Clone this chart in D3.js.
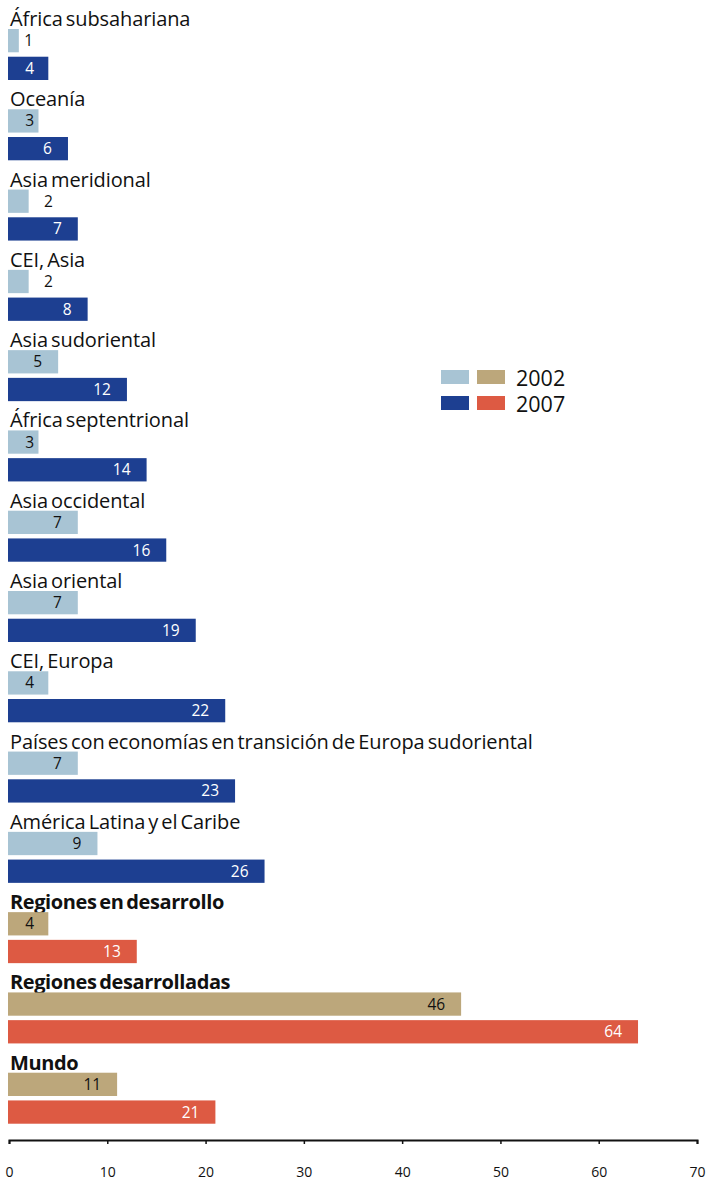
<!DOCTYPE html>
<html>
<head>
<meta charset="utf-8">
<script src="https://cdn.jsdelivr.net/npm/d3@7"></script>
<style>
  html, body { margin: 0; padding: 0; background: #fff; }
  svg { display: block; }
  .cat { font-family: "Open Sans", sans-serif; font-size: 20px; fill: #111; word-spacing: -2px; letter-spacing: -0.1px; }
  .cat.bold { font-weight: 700; letter-spacing: -0.4px; }
  .val { font-family: "Open Sans", sans-serif; font-size: 15.5px; }
  .tick text { font-family: "Open Sans", sans-serif; font-size: 14px; fill: #111; }
  .leg { font-family: "Open Sans", sans-serif; font-size: 21.5px; fill: #111; }
</style>
</head>
<body>
<script>
const categories = [
  "África subsahariana",
  "Oceanía",
  "Asia meridional",
  "CEI, Asia",
  "Asia sudoriental",
  "África septentrional",
  "Asia occidental",
  "Asia oriental",
  "CEI, Europa",
  "Países con economías en transición de Europa sudoriental",
  "América Latina y el Caribe",
  "Regiones en desarrollo",
  "Regiones desarrolladas",
  "Mundo"
];
const values2002 = [1, 3, 2, 2, 5, 3, 7, 7, 4, 7, 9, 4, 46, 11];
const values2007 = [4, 6, 7, 8, 12, 14, 16, 19, 22, 23, 26, 13, 64, 21];
const aggregates = ["Regiones en desarrollo", "Regiones desarrolladas", "Mundo"];
const seriesNames = ["2002", "2007"];
const xTicks = [0, 10, 20, 30, 40, 50, 60, 70];

const colors = {
  region: { "2002": "#a8c4d4", "2007": "#1d3f91" },
  aggregate: { "2002": "#bca77b", "2007": "#dd5a43" }
};

const W = 712, H = 1182;
const svg = d3.select("body").append("svg").attr("width", W).attr("height", H);

const x = d3.scaleLinear().domain([0, 70]).range([9, 697]);
const y = d3.scaleBand().domain(categories).range([0, 1124]).paddingInner(0).paddingOuter(0);
const sub = d3.scaleBand().domain(seriesNames).range([29, 80]).paddingInner(0.16);

const rows = categories.map((c, i) => ({
  cat: c, agg: aggregates.includes(c),
  vals: [{ s: "2002", v: values2002[i] }, { s: "2007", v: values2007[i] }]
}));

const g = svg.selectAll("g.row").data(rows).join("g")
  .attr("class", "row")
  .attr("transform", d => `translate(0,${y(d.cat)})`);

g.append("text")
  .attr("class", d => "cat" + (d.agg ? " bold" : ""))
  .attr("x", 10)
  .attr("y", 26)
  .text(d => d.cat);

const bars = g.selectAll("g.bar").data(d => d.vals.map(v => ({ ...v, agg: d.agg }))).join("g").attr("class", "bar");

bars.append("rect")
  .attr("x", x(0) - 1)
  .attr("y", d => sub(d.s))
  .attr("width", d => x(d.v) - x(0) + 1)
  .attr("height", sub.bandwidth())
  .attr("fill", d => (d.agg ? colors.aggregate : colors.region)[d.s]);

bars.append("text")
  .attr("class", "val")
  .attr("y", d => sub(d.s) + sub.bandwidth() / 2 + 5.5)
  .attr("x", d => d.v <= 2 ? x(2 * d.v) : Math.max(x(d.v) - 16, 34))
  .attr("text-anchor", d => d.v <= 2 ? "middle" : "end")
  .attr("fill", d => (d.s === "2007" && d.v > 2) ? "#fff" : "#111")
  .text(d => d.v);

// Axis
const axisG = svg.append("g").attr("transform", "translate(0,1140)");
axisG.call(d3.axisBottom(x).tickValues(xTicks).tickSize(4).tickSizeOuter(4).tickPadding(23));
axisG.select(".domain").attr("stroke", "#111").attr("stroke-width", 2);
axisG.selectAll(".tick line").attr("stroke", "#111").attr("stroke-width", 1.5);

// Legend
const leg = svg.append("g");
seriesNames.forEach((s, i) => {
  const yy = 370 + i * 26;
  leg.append("rect").attr("x", 441).attr("y", yy).attr("width", 28).attr("height", 14).attr("fill", colors.region[s]);
  leg.append("rect").attr("x", 477).attr("y", yy).attr("width", 28).attr("height", 14).attr("fill", colors.aggregate[s]);
  leg.append("text").attr("class", "leg").attr("x", 516).attr("y", yy + 15.5).text(s);
});
</script>
</body>
</html>
